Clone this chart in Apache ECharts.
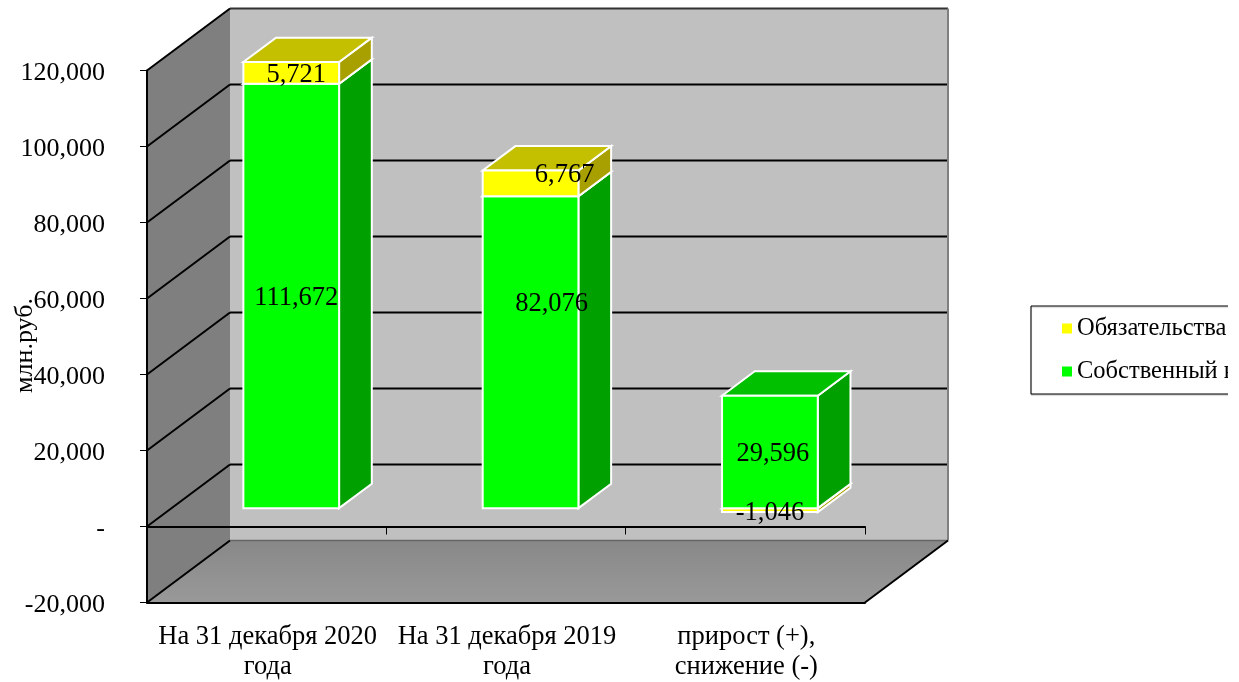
<!DOCTYPE html>
<html>
<head>
<meta charset="utf-8">
<style>html,body{margin:0;padding:0;background:#fff}#c{width:1239px;height:682px}</style>
<script src="https://cdn.jsdelivr.net/npm/echarts@6/dist/echarts.min.js"></script>
</head>
<body>
<div id="c"></div>
<script>
const categories = ["На 31 декабря 2020\nгода", "На 31 декабря 2019\nгода", "прирост (+),\nснижение (-)"];
const liabilities = [5721, 6767, -1046];
const equity = [111672, 82076, 29596];
const yTicks = [-20000, 0, 20000, 40000, 60000, 80000, 100000, 120000];
const yTickLabels = ["-20,000", "-", "20,000", "40,000", "60,000", "80,000", "100,000", "120,000"];
const seriesNames = ["Обязательства", "Собственный капитал"];
const axisTitle = "млн.руб.";

// 3D look
const DX = 83, DY = 62, Z0 = 0.296, Z1 = 0.69, BAR_RATIO = 0.4;
const FONT = '"Liberation Serif"';
const equityNudge = [[5, 2], [21, -48], [3, 2]];
const liabilityNudge = [[5, 2], [34, -8], [0, 3]];

const poly = (pts, fill, stroke, lw, z2) => ({
  type: 'polygon', z2: z2 || 0, shape: { points: pts },
  style: { fill: fill, stroke: stroke || null, lineWidth: lw || 0, lineJoin: 'miter' }
});
const line = (a, b, color, lw, z2) => ({
  type: 'line', z2: z2 || 0, shape: { x1: a[0], y1: a[1], x2: b[0], y2: b[1] },
  style: { stroke: color, lineWidth: lw }
});

function renderWalls(params, api) {
  const cs = params.coordSys;
  const xl = cs.x, xr = cs.x + cs.width;
  const yt = api.coord([0, yTicks[yTicks.length - 1]])[1];
  const yb = api.coord([0, yTicks[0]])[1];
  const ch = [];
  ch.push(poly([[xl + DX, yt - DY], [xr + DX, yt - DY], [xr + DX, yb - DY], [xl + DX, yb - DY]], '#c0c0c0'));
  ch.push(poly([[xl, yt], [xl + DX, yt - DY], [xl + DX, yb - DY], [xl, yb]], '#7f7f7f'));
  ch.push(poly([[xl, yb], [xl + DX, yb - DY], [xr + DX, yb - DY], [xr, yb]], new echarts.graphic.LinearGradient(0, 0, 0, 1, [
    { offset: 0, color: '#888888' }, { offset: 1, color: '#999999' }])));
  yTicks.forEach(function (v, i) {
    const y = api.coord([0, v])[1];
    if (i > 0) ch.push(line([xl + DX, y - DY], [xr + DX, y - DY], i === yTicks.length - 1 ? '#333333' : '#000000', 2));
    ch.push(line([xl, y], [xl + DX, y - DY], '#000000', 2));
  });
  ch.push(line([xl + DX, yb - DY], [xr + DX, yb - DY], '#666666', 1.5));
  ch.push(line([xr + DX, yt - DY], [xr + DX, yb - DY], '#808080', 2));
  ch.push(line([xr, yb], [xr + DX, yb - DY], '#000000', 2));
  return { type: 'group', children: ch };
}

function boxRenderer(colors) {
  return function (params, api) {
    const cat = api.value(0), lo = api.value(1), hi = api.value(2);
    const c = api.coord([cat, lo]), d = api.coord([cat, hi]);
    const w = api.size([1, 0])[0] * BAR_RATIO;
    const x0 = c[0] - w / 2 + DX * Z0, x1 = x0 + w;
    const yb = c[1] - DY * Z0, yt = d[1] - DY * Z0;
    const ox = DX * (Z1 - Z0), oy = DY * (Z1 - Z0);
    const z2 = lo > 0 ? 3 : lo === 0 ? 2 : 1;
    const s = '#ffffff', lw = 2;
    return {
      type: 'group',
      children: [
        poly([[x1, yb], [x1 + ox, yb - oy], [x1 + ox, yt - oy], [x1, yt]], colors[2], s, lw, z2),
        poly([[x0, yt], [x1, yt], [x1 + ox, yt - oy], [x0 + ox, yt - oy]], colors[1], s, lw, z2),
        poly([[x0, yb], [x1, yb], [x1, yt], [x0, yt]], colors[0], s, lw, z2)
      ]
    };
  };
}

function renderLabel(params, api) {
  const i = api.value(0);
  const p = api.coord([i, (api.value(1) + api.value(2)) / 2]);
  const nudge = (api.value(3) === 0 ? equityNudge : liabilityNudge)[i];
  return {
    type: 'text',
    x: p[0] + DX * Z0 + nudge[0],
    y: p[1] - DY * Z0 + nudge[1],
    style: {
      text: api.value(4).toLocaleString('en-US'),
      fill: '#000', font: '26.5px ' + FONT, align: 'center', verticalAlign: 'middle'
    }
  };
}

const equityRows = equity.map((v, i) => [i, 0, v]);
const liabilityRows = liabilities.map((v, i) => v >= 0 ? [i, equity[i], equity[i] + v] : [i, v, 0]);
const labelRows = equityRows.map((r, i) => [r[0], r[1], r[2], 0, equity[i]])
  .concat(liabilityRows.map((r, i) => [r[0], r[1], r[2], 1, liabilities[i]]));

const chart = echarts.init(document.getElementById('c'), null, { renderer: 'canvas' });
chart.setOption({
  animation: false,
  backgroundColor: '#ffffff',
  grid: { left: 147, right: 374, top: 70.5, bottom: 79.5, outerBoundsMode: 'none' },
  textStyle: { fontFamily: FONT },
  xAxis: [
    {
      type: 'category', data: categories, position: 'bottom', z: 1,
      axisLine: { onZero: false, lineStyle: { color: '#000', width: 2 } },
      axisTick: { show: false },
      axisLabel: { interval: 0, margin: 20, color: '#000', fontSize: 26.5, lineHeight: 30, fontFamily: FONT, padding: [0, 0, 0, 2] }
    },
    {
      type: 'category', data: categories, position: 'top', z: 1,
      axisLine: { onZero: true, lineStyle: { color: '#000', width: 2 } },
      axisTick: { show: true, inside: true, length: 8, lineStyle: { color: '#000', width: 1 } },
      axisLabel: { show: false }
    }
  ],
  yAxis: {
    type: 'value', min: -20000, max: 120000, interval: 20000, z: 1,
    name: axisTitle, nameLocation: 'middle', nameRotate: 90, nameGap: 109, nameMoveOverlap: false,
    nameTextStyle: { color: '#000', fontSize: 26, fontFamily: FONT, padding: [0, 18, 0, 0] },
    splitLine: { show: false },
    axisLine: { show: true, onZero: false, lineStyle: { color: '#000', width: 2 } },
    axisTick: { show: true, length: 7, lineStyle: { color: '#000', width: 1 } },
    axisLabel: {
      margin: 42, color: '#000', fontSize: 26, fontFamily: FONT, verticalAlign: 'top', lineHeight: 6,
      formatter: function (v) { return yTickLabels[yTicks.indexOf(v)]; }
    }
  },
  legend: {
    data: seriesNames, orient: 'vertical', left: 1031, top: 306,
    padding: [10, 20, 10, 31], itemWidth: 10, itemHeight: 10, itemGap: 18, icon: 'rect',
    backgroundColor: '#fff', borderColor: '#000', borderWidth: 1,
    shadowColor: '#bbb', shadowBlur: 1, shadowOffsetY: 1,
    selectedMode: false,
    textStyle: { color: '#000', fontSize: 24.5, lineHeight: 24, fontFamily: FONT }
  },
  graphic: [{ type: 'rect', z: 1000, shape: { x: 1228, y: 290, width: 11, height: 120 }, style: { fill: '#fff' } }],
  series: [
    { type: 'custom', name: 'walls', z: 0, silent: true, renderItem: renderWalls, data: [[0, 0]], encode: { x: 0, y: 1 } },
    {
      type: 'custom', name: seriesNames[0], z: 2, renderItem: boxRenderer(['#ffff00', '#c4c000', '#a8a000']),
      itemStyle: { color: '#ffff00' }, data: liabilityRows, encode: { x: 0, y: [1, 2] }
    },
    {
      type: 'custom', name: seriesNames[1], z: 2, renderItem: boxRenderer(['#00ff00', '#00c000', '#00a000']),
      itemStyle: { color: '#00ff00' }, data: equityRows, encode: { x: 0, y: [1, 2] }
    },
    { type: 'custom', name: 'labels', z: 3, silent: true, renderItem: renderLabel, data: labelRows, encode: { x: 0, y: [1, 2] } }
  ]
});
</script>
</body>
</html>
